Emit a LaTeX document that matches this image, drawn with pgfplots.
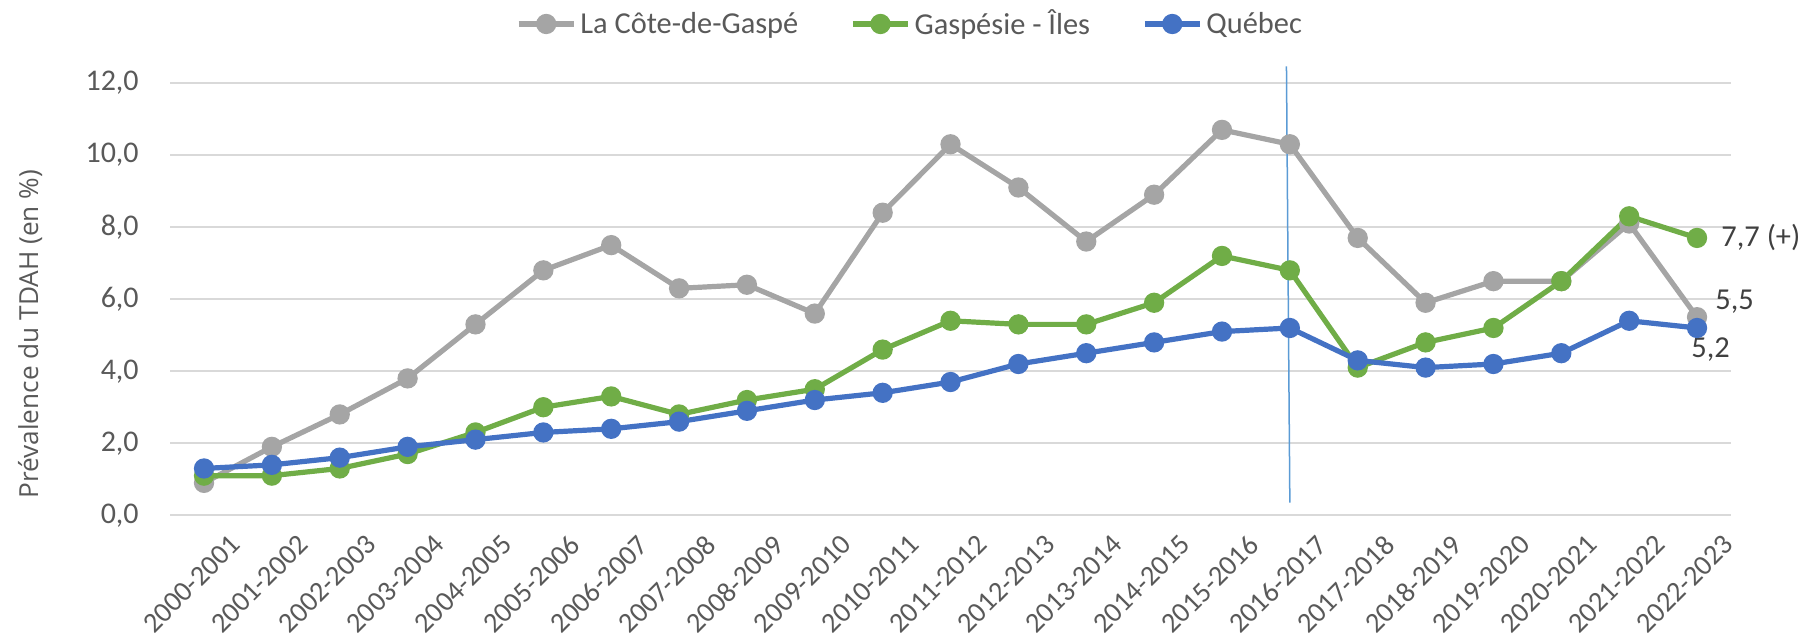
\documentclass[border=0pt]{standalone}
\usepackage{pgfplots}
\pgfplotsset{compat=1.18}
\usepackage{fontspec}
\setmainfont{Carlito}
\newfontfamily\osans{Open Sans}
\definecolor{cgray}{HTML}{A5A5A5}
\definecolor{cgreen}{HTML}{70AD47}
\definecolor{cblue}{HTML}{4472C4}
\definecolor{gridc}{HTML}{D9D9D9}
\definecolor{txt}{HTML}{595959}
\definecolor{lbl}{HTML}{404040}
\definecolor{vline}{HTML}{5B9BD5}
\begin{document}
\begin{tikzpicture}
\begin{axis}[
  scale only axis, width=780pt, height=216pt,
  xmin=-0.5, xmax=22.5, ymin=0, ymax=12,
  xtick={0,...,22},
  xticklabels={2000-2001,2001-2002,2002-2003,2003-2004,2004-2005,2005-2006,2006-2007,2007-2008,2008-2009,2009-2010,2010-2011,2011-2012,2012-2013,2013-2014,2014-2015,2015-2016,2016-2017,2017-2018,2018-2019,2019-2020,2020-2021,2021-2022,2022-2023},
  ytick={0,2,4,6,8,10,12},
  /pgf/number format/.cd, fixed, fixed zerofill, precision=1, use comma, assume math mode=true,
  /pgfplots/.cd,
  axis line style={draw=none},
  major tick length=0pt,
  ymajorgrids, grid style={gridc, line width=1pt},
  yticklabel style={font=\fontsize{15}{18}\selectfont, text=txt, anchor=east, inner sep=0pt, xshift=-15.5pt},
  xticklabel style={font=\fontsize{14.2}{17}\selectfont, text=txt, rotate=45, anchor=north east, inner sep=0pt, xshift=2.5pt, yshift=-15pt},
  ylabel={\osans Prévalence du TDAH (en \%)},
  ylabel style={font=\fontsize{13.1}{16}\selectfont, text=txt, at={(axis description cs:-0.0897,0.419)}, anchor=center, rotate=0},
  clip=false,
  legend columns=3,
  legend cell align=left,
  legend style={draw=none, fill=none, font=\fontsize{15.2}{18}\selectfont, text=txt,
    at={(0.4747,1.1366)}, anchor=center,
    /tikz/every even column/.append style={column sep=24pt}},
  legend image code/.code={\draw[mark repeat=2,mark phase=2] plot coordinates {(0pt,0pt) (13.75pt,0pt) (27.5pt,0pt)};},
  every axis plot/.append style={line width=2.6pt, mark=*, mark size=3.75pt},
]
\coordinate (pSW) at (rel axis cs:0,0);
\coordinate (pNE) at (rel axis cs:1,1);
\addplot[color=cgray, mark options={fill=cgray, draw=cgray}] coordinates {
(0,0.9) (1,1.9) (2,2.8) (3,3.8) (4,5.3) (5,6.8) (6,7.5) (7,6.3) (8,6.4) (9,5.6) (10,8.4) (11,10.3) (12,9.1) (13,7.6) (14,8.9) (15,10.7) (16,10.3) (17,7.7) (18,5.9) (19,6.5) (20,6.5) (21,8.1) (22,5.5)};
\addlegendentry{La Côte-de-Gaspé}
\addplot[color=cgreen, mark options={fill=cgreen, draw=cgreen}] coordinates {
(0,1.1) (1,1.1) (2,1.3) (3,1.7) (4,2.3) (5,3.0) (6,3.3) (7,2.8) (8,3.2) (9,3.5) (10,4.6) (11,5.4) (12,5.3) (13,5.3) (14,5.9) (15,7.2) (16,6.8) (17,4.1) (18,4.8) (19,5.2) (20,6.5) (21,8.3) (22,7.7)};
\addlegendentry{Gaspésie - Îles}
\addplot[color=cblue, mark options={fill=cblue, draw=cblue}] coordinates {
(0,1.3) (1,1.4) (2,1.6) (3,1.9) (4,2.1) (5,2.3) (6,2.4) (7,2.6) (8,2.9) (9,3.2) (10,3.4) (11,3.7) (12,4.2) (13,4.5) (14,4.8) (15,5.1) (16,5.2) (17,4.3) (18,4.1) (19,4.2) (20,4.5) (21,5.4) (22,5.2)};
\addlegendentry{Québec}
\addplot[color=vline, line width=0.75pt, mark=none, forget plot] coordinates {(15.95,12.46) (16.0,0.35)};
\node[anchor=west, inner sep=0pt, xshift=12pt, text=lbl, font=\fontsize{15.2}{18}\selectfont] at (axis cs:22,7.7) {7,7 (+)};
\node[anchor=west, inner sep=0pt, xshift=9pt, text=lbl, font=\fontsize{15.2}{18}\selectfont] at (axis cs:22,5.92) {5,5};
\node[anchor=west, inner sep=0pt, xshift=-3pt, text=lbl, font=\fontsize{15.2}{18}\selectfont] at (axis cs:22,4.6) {5,2};
\end{axis}
\pgfresetboundingbox
\path[use as bounding box] ([shift={(-85pt,-63pt)}]pSW) rectangle ([shift={(36pt,41.5pt)}]pNE);
\end{tikzpicture}
\end{document}
